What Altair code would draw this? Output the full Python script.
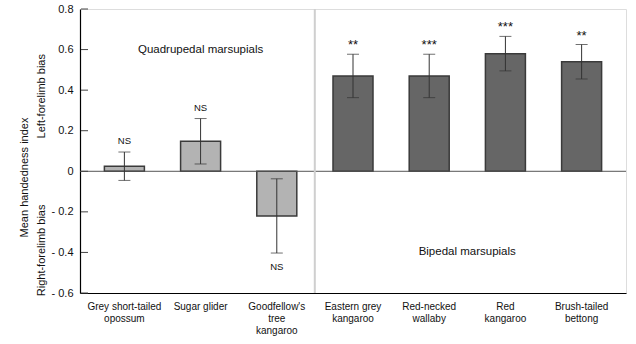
import altair as alt
import pandas as pd

categories = [
    "Grey short-tailed\nopossum",
    "Sugar glider",
    "Goodfellow's\ntree\nkangaroo",
    "Eastern grey\nkangaroo",
    "Red-necked\nwallaby",
    "Red\nkangaroo",
    "Brush-tailed\nbettong",
]
means = [0.025, 0.148, -0.22, 0.47, 0.47, 0.58, 0.54]
errors = [0.07, 0.112, 0.183, 0.107, 0.107, 0.085, 0.085]
signif = ["NS", "NS", "NS", "**", "***", "***", "**"]
groups = ["Quadrupedal"] * 3 + ["Bipedal"] * 4
y_ticks = [-0.6, -0.4, -0.2, 0, 0.2, 0.4, 0.6, 0.8]

df = pd.DataFrame({"cat": categories, "mean": means, "err": errors,
                   "sig": signif, "group": groups})
df["lo"] = df["mean"] - df["err"]
df["hi"] = df["mean"] + df["err"]
df["lab_y"] = [h if m >= 0 else l for m, h, l in zip(df["mean"], df["hi"], df["lo"])]

FONT = "Liberation Sans"

xscale = alt.Scale(domain=categories, paddingInner=0.475, paddingOuter=0.32)
yscale = alt.Scale(domain=[-0.6, 0.8], nice=False, zero=False)

label_expr = ("datum.value < 0 ? '- ' + format(-datum.value, '.1f') : "
              "(datum.value == 0 ? '0' : format(datum.value, '.1f'))")

base = alt.Chart(df)
X = alt.X("cat:N", scale=xscale, sort=categories)

bars = base.mark_bar(stroke="#3a3a3a", strokeWidth=1.5).encode(
    x=alt.X("cat:N", scale=xscale, sort=categories,
            axis=alt.Axis(title=None, labelAngle=0, ticks=False, domainColor="#000",
                          domainWidth=1.2, labelPadding=8, labelFontSize=10,
                          labelLineHeight=12.3, labelFont=FONT, labelColor="#111",
                          labelExpr="split(datum.label, '\\n')")),
    y=alt.Y("mean:Q", scale=yscale,
            axis=alt.Axis(values=y_ticks, labelExpr=label_expr, ticks=False,
                          domainColor="#000", domainWidth=1.2, grid=False,
                          labelFontSize=11, labelFont=FONT, labelColor="#111",
                          labelPadding=7, title="Mean handedness index",
                          titleFont=FONT, titleFontSize=11, titleFontWeight="normal",
                          titleColor="#111", titleX=-51, titleY=168)),
    y2=alt.Y2(datum=0),
    color=alt.Color("group:N", scale=alt.Scale(domain=["Quadrupedal", "Bipedal"],
                                               range=["#b3b3b3", "#666666"]),
                    legend=None),
)

ticks = alt.Chart(pd.DataFrame({"t": y_ticks})).mark_rule(color="#444", strokeWidth=1).encode(
    y=alt.Y("t:Q", scale=yscale), x=alt.value(1), x2=alt.value(8))

zero = alt.Chart(pd.DataFrame({"z": [0]})).mark_rule(color="#555", strokeWidth=1).encode(
    y=alt.Y("z:Q", scale=yscale), x=alt.value(0), x2=alt.value(546))

divider = alt.Chart(pd.DataFrame({"c": [categories[2]]})).mark_rule(
    color="#cfcfcf", strokeWidth=2, xOffset=18).encode(
    x=alt.X("c:N", scale=xscale, sort=categories, bandPosition=1),
    y=alt.value(0), y2=alt.value(284))

err_rule = base.mark_rule(color="#333", strokeWidth=1).encode(
    x=X, y=alt.Y("lo:Q", scale=yscale), y2="hi:Q")

cap_lo = base.mark_tick(color="#333", size=12, thickness=1, orient="horizontal").encode(
    x=X, y=alt.Y("lo:Q", scale=yscale))
cap_hi = base.mark_tick(color="#333", size=12, thickness=1, orient="horizontal").encode(
    x=X, y=alt.Y("hi:Q", scale=yscale))

ns_up = base.transform_filter("datum.mean >= 0 && datum.sig == 'NS'").mark_text(
    baseline="bottom", dy=-6, fontSize=9.5, font=FONT, color="#111").encode(
    x=X, y=alt.Y("lab_y:Q", scale=yscale), text="sig:N")
star_up = base.transform_filter("datum.mean >= 0 && datum.sig != 'NS'").mark_text(
    baseline="bottom", dy=-2, fontSize=13, font=FONT, color="#111").encode(
    x=X, y=alt.Y("lab_y:Q", scale=yscale), text="sig:N")
sig_dn = base.transform_filter("datum.mean < 0").mark_text(
    baseline="top", dy=9, fontSize=9.5, font=FONT, color="#111").encode(
    x=X, y=alt.Y("lab_y:Q", scale=yscale), text="sig:N")

notes = pd.DataFrame({"c": [categories[1], categories[4]],
                      "y": [0.6, -0.4],
                      "t": ["Quadrupedal marsupials", "Bipedal marsupials"]})
note_q = alt.Chart(notes.iloc[[0]]).mark_text(fontSize=11.5, font=FONT, color="#111").encode(
    x=alt.X("c:N", scale=xscale, sort=categories, bandPosition=0.5),
    y=alt.Y("y:Q", scale=yscale), text="t:N")
note_b = alt.Chart(notes.iloc[[1]]).mark_text(fontSize=11.5, font=FONT, color="#111", dx=18).encode(
    x=alt.X("c:N", scale=xscale, sort=categories, bandPosition=1),
    y=alt.Y("y:Q", scale=yscale), text="t:N")

bias = pd.DataFrame({"y": [0.37, -0.39], "t": ["Left-forelimb bias", "Right-forelimb bias"]})
bias_txt = alt.Chart(bias).mark_text(angle=270, fontSize=11, font=FONT, color="#111").encode(
    x=alt.value(-38), y=alt.Y("y:Q", scale=yscale), text="t:N")

chart = alt.layer(
    bars, zero, divider, ticks, err_rule, cap_lo, cap_hi, ns_up, star_up, sig_dn,
    note_q, note_b, bias_txt
).properties(
    width=546, height=284,
    autosize=alt.AutoSizeParams(type="none"),
    padding={"left": 80, "top": 9, "right": 10, "bottom": 51},
).configure_view(stroke="#8c8c8c", strokeWidth=1.5).configure(background="white")

chart.save("out.html", embed_options={"renderer": "svg", "actions": False})
